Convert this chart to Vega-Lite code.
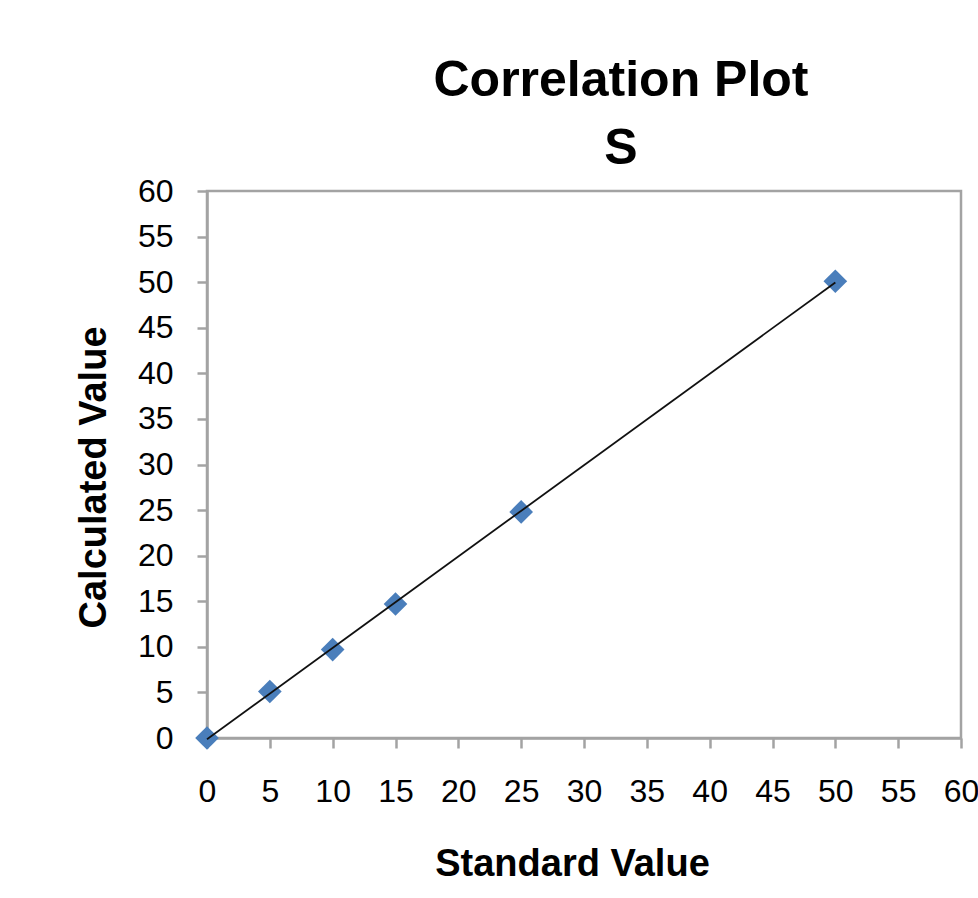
{
  "$schema": "https://vega.github.io/schema/vega-lite/v6.json",
  "width": 754,
  "height": 547,
  "autosize": {"type": "none"},
  "padding": {"left": 207, "top": 191, "right": 17, "bottom": 160},
  "background": "white",
  "title": {
    "text": ["Correlation Plot", "S"],
    "font": "Liberation Sans",
    "fontSize": 50,
    "fontWeight": "bold",
    "color": "black",
    "lineHeight": 68,
    "anchor": "middle",
    "dx": 37,
    "offset": 1
  },
  "data": {
    "values": [
      {"standard": 0, "calculated": 0.0},
      {"standard": 5, "calculated": 5.1},
      {"standard": 10, "calculated": 9.7},
      {"standard": 15, "calculated": 14.7},
      {"standard": 25, "calculated": 24.8},
      {"standard": 50, "calculated": 50.1}
    ]
  },
  "layer": [
    {
      "mark": {"type": "point", "shape": "diamond", "filled": true, "color": "#4A7EBB", "opacity": 1, "size": 560},
      "encoding": {
        "x": {
          "field": "standard", "type": "quantitative", "title": "Standard Value",
          "scale": {"domain": [0, 60], "nice": false, "zero": true},
          "axis": {"values": [0, 5, 10, 15, 20, 25, 30, 35, 40, 45, 50, 55, 60]}
        },
        "y": {
          "field": "calculated", "type": "quantitative", "title": "Calculated Value",
          "scale": {"domain": [0, 60], "nice": false, "zero": true},
          "axis": {"values": [0, 5, 10, 15, 20, 25, 30, 35, 40, 45, 50, 55, 60]}
        }
      }
    },
    {
      "transform": [{"regression": "calculated", "on": "standard", "extent": [0, 50]}],
      "mark": {"type": "line", "color": "#111111", "strokeWidth": 1.8},
      "encoding": {
        "x": {"field": "standard", "type": "quantitative"},
        "y": {"field": "calculated", "type": "quantitative"}
      }
    }
  ],
  "config": {
    "view": {"stroke": "#a3a3a3", "strokeWidth": 2.5},
    "axis": {
      "grid": false,
      "domainColor": "#a3a3a3",
      "domainWidth": 2.5,
      "tickColor": "#a3a3a3",
      "tickWidth": 2.5,
      "tickSize": 10,
      "labelFont": "Liberation Sans",
      "labelFontSize": 32,
      "labelColor": "black",
      "labelOverlap": false,
      "labelFlush": false,
      "titleFont": "Liberation Sans",
      "titleFontSize": 38,
      "titleFontWeight": "bold",
      "titleColor": "black"
    },
    "axisX": {"labelPadding": 28, "titlePadding": 38, "titleX": 365},
    "axisY": {"labelPadding": 24, "titlePadding": 24, "titleY": 286}
  }
}
